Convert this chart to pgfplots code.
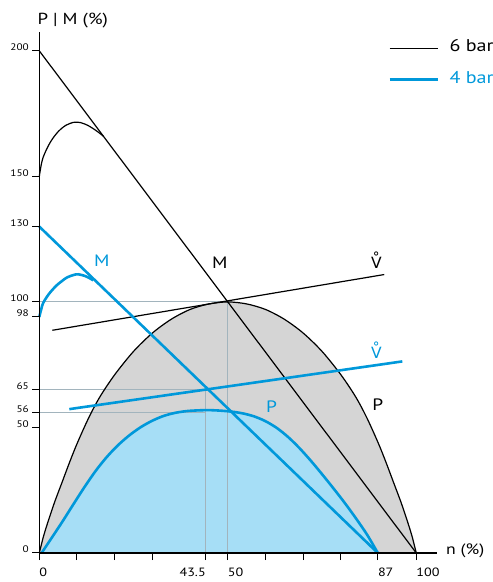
\documentclass[border=0pt]{standalone}
\usepackage{fontspec}
\setmainfont{PT Sans}[FakeStretch=1.18]
\newfontfamily\dejavu{DejaVu Sans}
\usepackage{pgfplots}
\pgfplotsset{compat=1.18}
\definecolor{myblue}{HTML}{0098DA}
\definecolor{lightblue}{HTML}{A6DEF6}
\definecolor{fillgray}{HTML}{D5D5D5}
\definecolor{refgray}{HTML}{A2B4BD}
\newcommand{\Vring}{{\dejavu\accent"02DA V}}
\begin{document}
\begin{tikzpicture}
\useasboundingbox (-39.3pt,-29pt) rectangle (453.7pt,553pt);
\begin{axis}[
  at={(0pt,0pt)}, anchor=south west,
  scale only axis, width=397.7pt, height=521pt,
  xmin=0, xmax=105.5, ymin=0, ymax=207.5,
  axis x line=bottom, axis y line=left,
  axis line style={-, line width=1.1pt},
  axis on top,
  clip=false,
  xtick={0,50,89.8,100},
  xticklabels={0,50,87,100},
  minor xtick={10,20,30,60,70,80},
  extra x ticks={44.2},
  extra x tick labels={43.5},
  extra x tick style={xticklabel style={anchor=north east}},
  ytick={0,50,55.8,65,94,100,130,150,200},
  yticklabels={0,50,56,65,98,100,130,150,200},
  tick align=outside, major tick length=7pt, minor tick length=7pt,
  tick style={black, line width=1pt},
  minor tick style={black, line width=1pt},
  xticklabel style={font=\fontsize{12}{14}\selectfont, anchor=north west, inner xsep=0pt, yshift=-4pt},
  yticklabel style={font=\fontsize{9.5}{11}\selectfont, anchor=base east},
  legend style={at={(0.877,0.9386)}, anchor=west, draw=none, fill=none,
    inner sep=0pt, row sep=14pt, nodes={inner sep=0pt}},
  legend cell align=left,
  legend image code/.code={\draw[#1] (0pt,0pt) -- (48pt,0pt);},
]
\addlegendimage{black, line width=1.2pt}
\addlegendentry{\hspace*{10.7pt}\raisebox{4pt}{\fontsize{17}{20}\selectfont 6 bar}}
\addlegendimage{myblue, line width=2.6pt}
\addlegendentry{\hspace*{10.7pt}\raisebox{4pt}{\fontsize{17}{20}\selectfont\color{myblue}4 bar}}

% fills
\addplot[forget plot, draw=none, fill=fillgray, smooth] coordinates {
(0,0) (1,6) (2,11) (4,20) (6,28) (8,36) (10,43.5) (13,53.5) (16,62) (20,71) (25,80.3) (30,87.6) (35,93.1) (40,97) (45,99.2) (50,100)
(55,99.2) (60,97) (65,93.1) (70,87.6) (75,80.3) (80,71) (84,62) (87,53.5) (90,43.5) (92,36) (94,28) (96,20) (98,11) (99,6) (100,0)
} \closedcycle;
\addplot[forget plot, draw=none, fill=lightblue, smooth] coordinates {
(0.6,0) (3,5.4) (6,12.2) (9,19.3) (12,26.3) (15,32.8) (18,38.4) (21,43.1) (24,47) (27,50.2) (30,52.7) (33,54.6) (36,55.8) (39,56.5) (42,56.8) (45,56.9) (48,56.7)
(51,56.3) (54,55.6) (57,54.4) (60,52.5) (63,49.8) (66,46.2) (69,41.8) (72,36.8) (75,31.4) (78,25.8) (81,20) (84,13.8) (87,7.2) (89.8,0)
} \closedcycle;

% reference lines
\addplot[forget plot, refgray, line width=1pt] coordinates {(0,100) (50,100) (50,0)};
\addplot[forget plot, refgray, line width=1pt] coordinates {(0,65) (44.2,65) (44.2,0)};
\addplot[forget plot, refgray, line width=1pt] coordinates {(0,55.8) (44.2,55.8)};

% 6 bar
\addplot[forget plot, black, line width=1.2pt, smooth] coordinates {
(0,0) (1,6) (2,11) (4,20) (6,28) (8,36) (10,43.5) (13,53.5) (16,62) (20,71) (25,80.3) (30,87.6) (35,93.1) (40,97) (45,99.2) (50,100)
(55,99.2) (60,97) (65,93.1) (70,87.6) (75,80.3) (80,71) (84,62) (87,53.5) (90,43.5) (92,36) (94,28) (96,20) (98,11) (99,6) (100,0)
};
\addplot[forget plot, black, line width=1.2pt] coordinates {(0,200) (100,0)};
\addplot[forget plot, black, line width=1.2pt, smooth] coordinates {
(0,150) (0.5,154.5) (1,157.5) (2,161) (3,163.8) (4,166) (5,167.8) (6,169.2) (7,170.3) (8,171) (9,171.5) (10,171.6)
(11,171.4) (12,170.9) (13,170.2) (14,169.3) (15,168.3) (16,167.2) (17,166)
};
\addplot[forget plot, black, line width=1.2pt] coordinates {(3.45,88.7) (91.5,110.9)};

% 4 bar
\addplot[forget plot, myblue, line width=2.6pt, smooth] coordinates {
(0.6,0) (3,5.4) (6,12.2) (9,19.3) (12,26.3) (15,32.8) (18,38.4) (21,43.1) (24,47) (27,50.2) (30,52.7) (33,54.6) (36,55.8) (39,56.5) (42,56.8) (45,56.9) (48,56.7)
(51,56.3) (54,55.6) (57,54.4) (60,52.5) (63,49.8) (66,46.2) (69,41.8) (72,36.8) (75,31.4) (78,25.8) (81,20) (84,13.8) (87,7.2) (89.8,0)
};
\addplot[forget plot, myblue, line width=2.6pt] coordinates {(0,130) (89.8,0)};
\addplot[forget plot, myblue, line width=2.6pt, smooth] coordinates {
(0,94) (0.5,97) (1,99.5) (2,102) (3,104) (4.6,106.6) (6,108.3) (7.3,109.7) (9,110.7) (10.3,111) (12,110.4) (13.3,109.5) (14.3,108.6)
};
\addplot[forget plot, myblue, line width=2.6pt] coordinates {(7.96,57.3) (96.3,76.3)};

% labels
\node[font=\fontsize{16}{18}\selectfont, anchor=base west, inner sep=0pt] at (axis cs:-0.5,210.5) {P | M (\%)};
\node[font=\fontsize{15}{18}\selectfont, anchor=base west, inner sep=0pt] at (axis cs:107.9,-0.5) {n (\%)};
\node[font=\fontsize{16.5}{19}\selectfont] at (axis cs:47.9,115.8) {M};
\node[font=\fontsize{16.5}{19}\selectfont, text=myblue] at (axis cs:16.6,116.6) {M};
\node[font=\fontsize{15.5}{19}\selectfont] at (axis cs:89.4,116.6) {\Vring};
\node[font=\fontsize{15.5}{19}\selectfont, text=myblue] at (axis cs:89.4,80.8) {\Vring};
\node[font=\fontsize{16.5}{19}\selectfont] at (axis cs:89.8,58.9) {P};
\node[font=\fontsize{16.5}{19}\selectfont, text=myblue] at (axis cs:61.6,58.2) {P};
\end{axis}
\end{tikzpicture}
\end{document}
